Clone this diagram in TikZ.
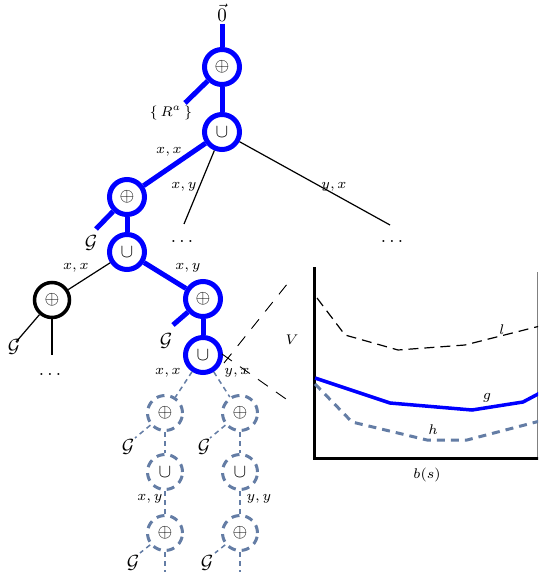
\documentclass[tikz,border=0pt]{standalone}
\usepackage{graphicx}
\definecolor{slate}{RGB}{100,125,165}
\newcommand{\sml}[1]{\scalebox{2}{\scriptsize$#1$}}
\newcommand{\bgl}[1]{\scalebox{1.9}{$#1$}}
\begin{document}
\begin{tikzpicture}[x=1pt,y=-1pt,
 opn/.style={circle, minimum size=35pt, inner sep=0pt, fill=white},
 bluenode/.style={opn, draw=blue, line width=5pt},
 blacknode/.style={opn, draw=black, line width=3.5pt},
 dashnode/.style={opn, draw=slate, line width=3pt, dash pattern=on 8pt off 6pt},
 blueedge/.style={draw=blue, line width=5pt},
 thinedge/.style={draw=black, line width=1.2pt},
 dashedge/.style={draw=slate, line width=1.5pt, dash pattern=on 5pt off 4pt},
 magline/.style={draw=black, line width=0.9pt, dash pattern=on 12pt off 10pt},
 lbl/.style={inner sep=0pt},
]
\clip (0,0) rectangle (538,572);
% operator nodes
\node[bluenode] (p1) at (222,67) {\bgl{\oplus}};
\node[bluenode] (u1) at (222,132) {\bgl{\cup}};
\node[bluenode] (p2) at (127,197) {\bgl{\oplus}};
\node[bluenode] (u2) at (127,252) {\bgl{\cup}};
\node[blacknode] (p3) at (52,300) {\bgl{\oplus}};
\node[bluenode] (p4) at (203,299) {\bgl{\oplus}};
\node[bluenode] (u3) at (203,355) {\bgl{\cup}};
\node[dashnode] (p5) at (165,413) {\bgl{\oplus}};
\node[dashnode] (p6) at (240,413) {\bgl{\oplus}};
\node[dashnode] (u4) at (165,472) {\bgl{\cup}};
\node[dashnode] (u5) at (240,472) {\bgl{\cup}};
\node[dashnode] (p7) at (165,533) {\bgl{\oplus}};
\node[dashnode] (p8) at (240,533) {\bgl{\oplus}};
% text nodes
\node[lbl] (zero) at (222,13) {\bgl{\vec{0}}};
\node[lbl] (ra) at (171,113) {\sml{\{\,R^a\,\}}};
\node[lbl] (xx1) at (169,152) {\sml{x,x}};
\node[lbl] (xy1) at (184,187) {\sml{x,y}};
\node[lbl] (yx1) at (334,187) {\sml{y,x}};
\node[lbl] (dots1) at (182,241) {\bgl{\dots}};
\node[lbl] (dots2) at (392,241) {\bgl{\dots}};
\node[lbl] (G1) at (91,243) {\bgl{\mathcal{G}}};
\node[lbl] (xx2) at (76,268) {\sml{x,x}};
\node[lbl] (xy2) at (188,268) {\sml{x,y}};
\node[lbl] (G3) at (14,347) {\bgl{\mathcal{G}}};
\node[lbl] (dots3) at (50,374) {\bgl{\dots}};
\node[lbl] (G4) at (166,341) {\bgl{\mathcal{G}}};
\node[lbl] (xx3) at (168,373) {\sml{x,x}};
\node[lbl] (yx3) at (237,373) {\sml{y,x}};
\node[lbl] (G5) at (128,447) {\bgl{\mathcal{G}}};
\node[lbl] (G6) at (204,447) {\bgl{\mathcal{G}}};
\node[lbl] (xy4) at (150,499) {\sml{x,y}};
\node[lbl] (yy4) at (259,499) {\sml{y,y}};
\node[lbl] (G7) at (133,563) {\bgl{\mathcal{G}}};
\node[lbl] (G8) at (207,563) {\bgl{\mathcal{G}}};
% free ends
\coordinate (ztop) at (222,24);
\coordinate (rae) at (185,103);
\coordinate (d1) at (184,224);
\coordinate (d2) at (390,225);
\coordinate (g1) at (96,229);
\coordinate (g3) at (16,342);
\coordinate (d3) at (52,355);
\coordinate (g4) at (173,325);
\coordinate (g5) at (135,438);
\coordinate (g6) at (210,438);
\coordinate (g7) at (140,553);
\coordinate (g8) at (215,553);
\coordinate (b7) at (165,580);
\coordinate (b8) at (240,580);
\coordinate (m1) at (224,363);
\coordinate (m2) at (222,354);
\coordinate (magA) at (288,283);
\coordinate (magB) at (286,399);
% blue path
\draw[blueedge] (ztop) -- (p1);
\draw[blueedge] (p1) -- (rae);
\draw[blueedge] (p1) -- (u1);
\draw[blueedge] (u1) -- (p2);
\draw[blueedge] (p2) -- (g1);
\draw[blueedge] (p2) -- (u2);
\draw[blueedge] (u2) -- (p4);
\draw[blueedge] (p4) -- (g4);
\draw[blueedge] (p4) -- (u3);
% thin black
\draw[thinedge] (u1) -- (d1);
\draw[thinedge] (u1) -- (d2);
\draw[thinedge] (u2) -- (p3);
\draw[thinedge] (p3) -- (g3);
\draw[thinedge] (p3) -- (d3);
% dashed slate
\draw[dashedge] (u3) -- (p5);
\draw[dashedge] (u3) -- (p6);
\draw[dashedge] (p5) -- (g5);
\draw[dashedge] (p6) -- (g6);
\draw[dashedge] (p5) -- (u4);
\draw[dashedge] (p6) -- (u5);
\draw[dashedge] (u4) -- (p7);
\draw[dashedge] (u5) -- (p8);
\draw[dashedge] (p7) -- (g7);
\draw[dashedge] (p8) -- (g8);
\draw[dashedge] (p7) -- (b7);
\draw[dashedge] (p8) -- (b8);
% magnifier lines
\draw[magline] (m1) -- (magA);
\draw[magline] (m2) -- (magB);
% chart
\draw[gray, line width=0.8pt] (537,272) -- (537,458);
\draw[line width=3pt] (314,267) -- (314,458) -- (540,458);
\draw[black, line width=1.2pt, dash pattern=on 10pt off 6pt] (317,298) -- (345,335) -- (398,350) -- (465,345) -- (540,326);
\draw[blue, line width=3.5pt] (315,378) -- (390,403) -- (472,410) -- (523,402) -- (540,393);
\draw[slate, line width=3pt, dash pattern=on 8pt off 6pt] (315,384) -- (352,422) -- (427,440) -- (467,440) -- (540,421);
\node[lbl] (ll) at (502,330) {\sml{l}};
\node[lbl] (gl) at (487,398) {\sml{g}};
\node[lbl] (hl) at (433,430) {\sml{h}};
\node[lbl] (vl) at (292,340) {\sml{V}};
\node[lbl] (bl) at (427,475) {\sml{b(s)}};
\end{tikzpicture}
\end{document}
